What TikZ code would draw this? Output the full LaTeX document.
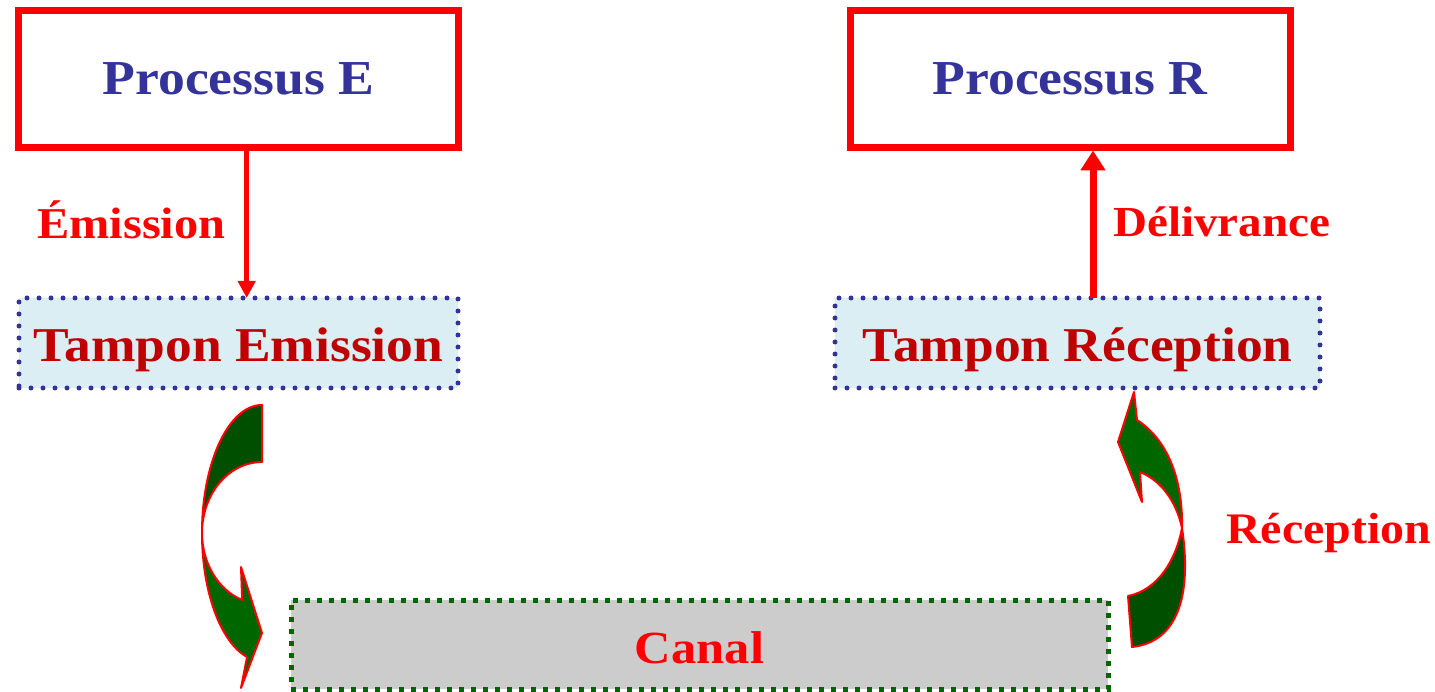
\documentclass[tikz,border=0pt]{standalone}
\usepackage{fontspec}
\setmainfont{Liberation Serif}[FakeStretch=1.1]
\usetikzlibrary{arrows.meta}

\definecolor{procblue}{HTML}{333399}
\definecolor{bufred}{HTML}{C00000}
\definecolor{labelred}{HTML}{FF0000}
\definecolor{buffill}{HTML}{DAEEF3}
\definecolor{chanfill}{HTML}{CCCCCC}
\definecolor{chanedge}{HTML}{006600}
\definecolor{darkband}{HTML}{004F00}
\definecolor{lightband}{HTML}{006600}

\begin{document}
\begin{tikzpicture}[x=1pt, y=-1pt,
  procbox/.style={draw=labelred, line width=7pt, minimum width=440pt, minimum height=137pt,
    inner sep=0pt, outer sep=0pt, text=procblue, text height=32pt, text depth=0pt,
    font=\bfseries\fontsize{48.8}{58}\selectfont},
  bufbox/.style={draw=procblue, fill=buffill, line width=5pt, line cap=round,
    dash pattern=on 0pt off 12pt, minimum height=90pt, inner sep=0pt, outer sep=0pt,
    text=bufred, text height=38pt, text depth=0pt,
    font=\bfseries\fontsize{48.6}{58}\selectfont},
  chanbox/.style={draw=chanedge, fill=chanfill, line width=5pt, dash pattern=on 5pt off 7pt,
    minimum width=817pt, minimum height=89pt, inner sep=0pt, outer sep=0pt,
    text=labelred, text height=37pt, text depth=0pt,
    font=\bfseries\fontsize{46}{55}\selectfont},
  lbl/.style={inner sep=0pt, text=labelred, font=\bfseries\fontsize{44}{52}\selectfont},
  thinarrow/.style={draw=labelred, line width=4.5pt, -{Triangle[length=17pt, width=17pt]}},
  thickarrow/.style={draw=labelred, line width=7pt, -{Triangle[length=20pt, width=24pt]}},
  blockarrow/.style={draw=labelred, line width=2pt, line join=round}]

\useasboundingbox (0,0) rectangle (1435,692);

% processes
\node[procbox] (pe) at (238.5,79) {Processus E};
\node[procbox] (pr) at (1070,79) {Processus R};

% buffers and channel
\node[bufbox, minimum width=439pt] (te) at (238.5,343) {Tampon Emission};
\node[bufbox, minimum width=485pt] (tr) at (1077.5,343) {Tampon Réception};
\node[chanbox] (ch) at (699.5,644.5) {Canal};

% process <-> buffer transfers
\draw[thinarrow] ([xshift=8.2pt]pe.south) -- ([xshift=8.2pt]te.north);
\draw[thickarrow] ([xshift=15.5pt]tr.north) -- ([xshift=23pt, yshift=-3pt]pr.south);

% labels
\node[lbl, anchor=base west] (em) at (37,239) {Émission};
\node[lbl, anchor=base west, font=\bfseries\fontsize{42.8}{52}\selectfont] (dl) at (1113,237) {Délivrance};
\node[lbl, anchor=base west, font=\bfseries\fontsize{43.6}{52}\selectfont] (rc) at (1226,543) {Réception};

% curved block arrow: emission buffer -> channel
\filldraw[blockarrow, fill=darkband]
  (262,405) arc[start angle=270, end angle=180, x radius=60, y radius=128]
            arc[start angle=180, end angle=270, x radius=60, y radius=71] -- cycle;
\filldraw[blockarrow, fill=lightband]
  (202,533) arc[start angle=180, end angle=104.4, x radius=60, y radius=128]
  -- (241,688) -- (262,633) -- (241,567) -- (242.2,600)
  arc[start angle=109.3, end angle=180, x radius=60, y radius=71] -- cycle;

% curved block arrow: channel -> reception buffer
\filldraw[blockarrow, fill=darkband]
  (1132,647) .. controls (1178,642) and (1192,595) .. (1182,528)
  .. controls (1176,560) and (1158,590) .. (1128,596) -- cycle;
\filldraw[blockarrow, fill=lightband]
  (1182,528) .. controls (1183,480) and (1168,440) .. (1137,420)
  -- (1134,392) -- (1118,442) -- (1142,502) -- (1140,472)
  .. controls (1160,480) and (1176,500) .. (1182,528) -- cycle;

\end{tikzpicture}
\end{document}
